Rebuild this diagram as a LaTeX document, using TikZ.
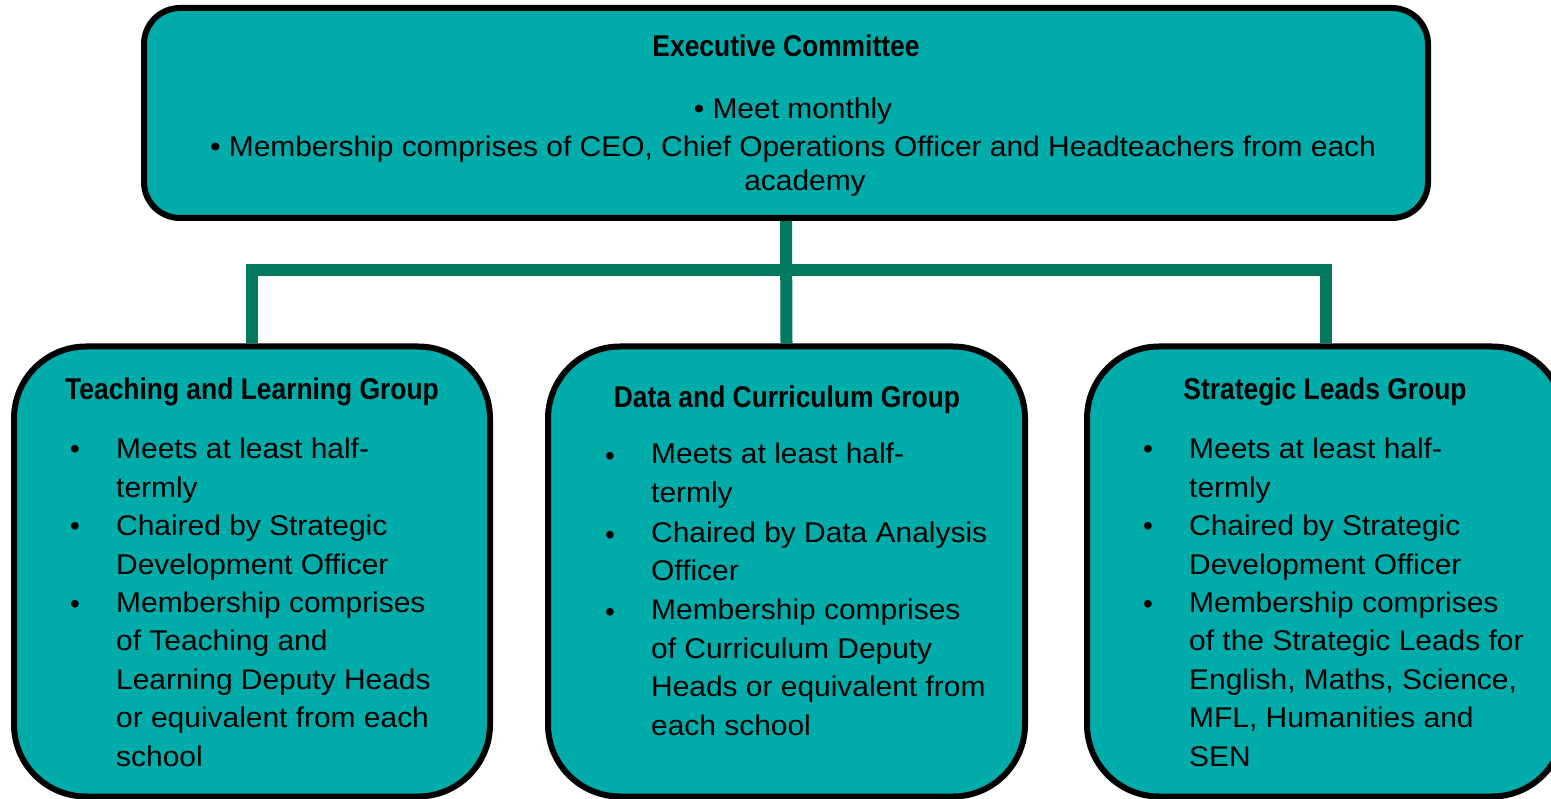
\documentclass[tikz,border=0pt]{standalone}
\usepackage{fontspec}
\setmainfont{Liberation Sans}
\newfontfamily\bfont[FakeStretch=1.05]{Liberation Sans}
\newfontfamily\tfont[FakeStretch=0.88]{Liberation Sans}
\definecolor{tealfill}{HTML}{00ACAA}
\definecolor{conn}{HTML}{00795F}
\tikzset{
  box/.style={draw=black, line width=6pt, fill=tealfill, inner sep=0pt},
  conline/.style={draw=conn, line width=12pt, line cap=butt, line join=miter},
  body/.style={inner sep=0pt, align=left, anchor=base west, font=\fontsize{28.5}{38.4}\bfont},
  ctext/.style={inner sep=0pt, anchor=base, font=\fontsize{28.5}{38.4}\bfont},
  title/.style={inner sep=0pt, anchor=base, font=\fontsize{30}{36}\tfont\bfseries},
  bul/.style={inner sep=0pt, anchor=base, font=\fontsize{28}{38.4}\selectfont}
}
\begin{document}
\begin{tikzpicture}[x=1pt,y=-1pt]
\useasboundingbox (0,0) rectangle (1551,799);
\clip (0,0) rectangle (1551,799);
\fill[white] (0,0) rectangle (1551,799);

\node[box, minimum width=1284pt, minimum height=210pt, rounded corners=36pt] (exec) at (786,113) {};
\node[box, minimum width=476pt, minimum height=450pt, rounded corners=72pt] (tl) at (252,571.5) {};
\node[box, minimum width=477pt, minimum height=450pt, rounded corners=72pt] (dc) at (786.5,571.5) {};
\node[box, minimum width=477pt, minimum height=450pt, rounded corners=72pt] (sl) at (1325.5,571.5) {};

\coordinate (bar) at (0,270);
\draw[conline] (exec.south) -- (dc.north);
\draw[conline] (tl.north) -- (tl.north |- bar) -- (sl.north |- bar) -- (sl.north);

% top box text
\node[title] (exect) at (786,57) {Executive Committee};
\node[ctext] (ex1) at (793,119) {\textbullet\ Meet monthly};
\node[ctext] (ex2) at (793,157) {\textbullet\ Membership comprises of CEO, Chief Operations Officer and Headteachers from each};
\node[ctext] (ex3) at (805,191) {academy};

% left box
\node[title] (tlt) at (252,400) {Teaching and Learning Group};
\node[bul] (tlb1) at (75,459) {\textbullet};
\node[bul] (tlb2) at (75,536) {\textbullet};
\node[bul] (tlb3) at (75,613) {\textbullet};
\node[body] (tlx) at (116,766) {Meets at least half-\\termly\\Chaired by Strategic\\Development Officer\\Membership comprises\\of Teaching and\\Learning Deputy Heads\\or equivalent from each\\school};

% middle box
\node[title] (dct) at (787,408) {Data and Curriculum Group};
\node[bul] (dcb1) at (610,466) {\textbullet};
\node[bul] (dcb2) at (610,544) {\textbullet};
\node[bul] (dcb3) at (610,621) {\textbullet};
\node[body] (dcx) at (651,735) {Meets at least half-\\termly\\[1.5pt]Chaired by Data Analysis\\Officer\\[1pt]Membership comprises\\of Curriculum Deputy\\Heads or equivalent from\\each school};

% right box
\node[title] (slt) at (1325,400) {Strategic Leads Group};
\node[bul] (slb1) at (1148,459) {\textbullet};
\node[bul] (slb2) at (1148,536) {\textbullet};
\node[bul] (slb3) at (1148,613) {\textbullet};
\node[body] (slx) at (1189,766) {Meets at least half-\\termly\\Chaired by Strategic\\Development Officer\\Membership comprises\\of the Strategic Leads for\\English, Maths, Science,\\MFL, Humanities and\\SEN};
\end{tikzpicture}
\end{document}
